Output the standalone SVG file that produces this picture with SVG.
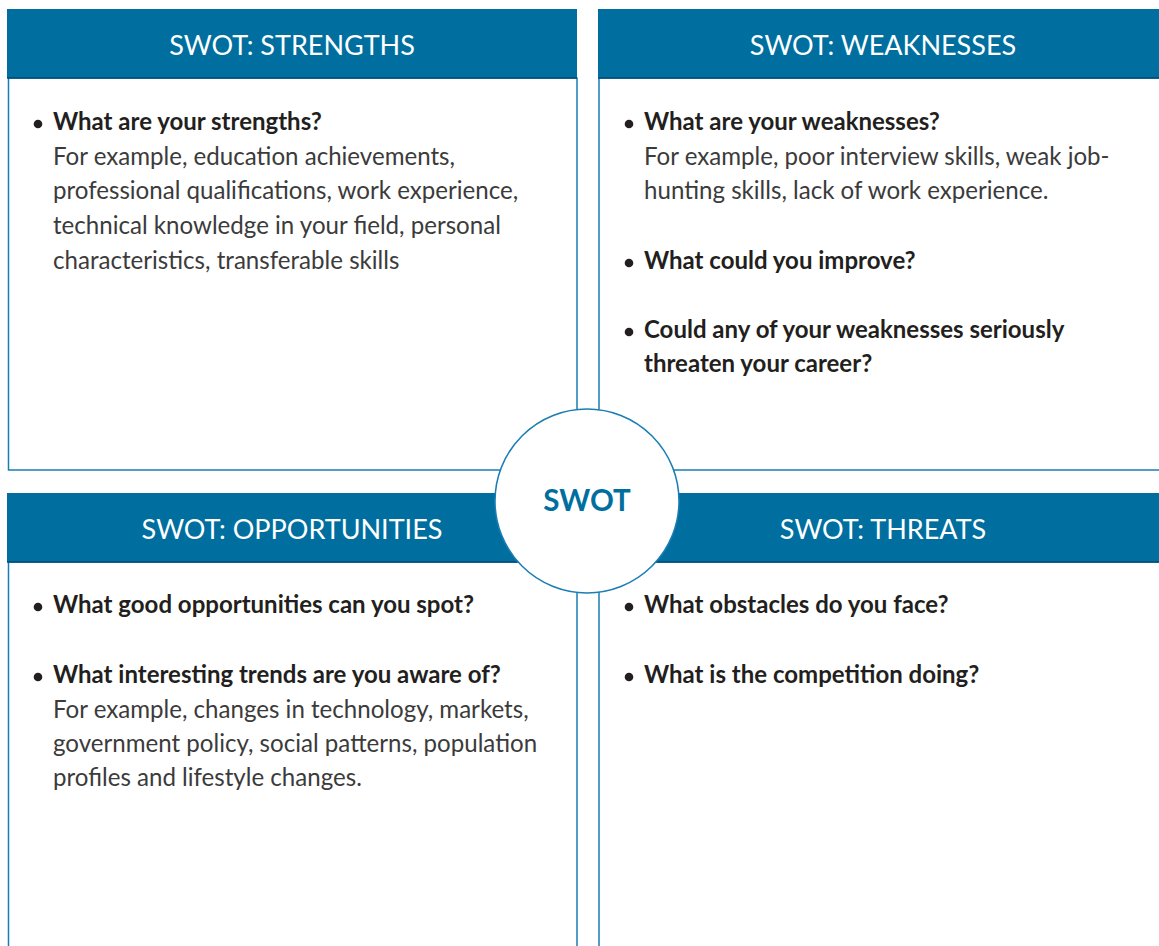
<svg xmlns="http://www.w3.org/2000/svg" width="1159" height="946" viewBox="0 0 1159 946">
  <style>
    .panel { fill: #ffffff; stroke: #1a7db3; stroke-width: 1.5; }
    .head { fill: #006f9f; }
    .headline { stroke: #004a75; stroke-width: 1.5; }
    .htxt { font-family: Lato, "Open Sans", sans-serif; font-size: 27px; fill: #ffffff; text-anchor: middle; }
    .q { font-family: Lato, "Open Sans", sans-serif; font-size: 24px; font-weight: bold; fill: #231f20; }
    .b { font-family: Lato, "Open Sans", sans-serif; font-size: 24.1px; fill: #3b3b3b; }
    .dot { fill: #231f20; }
    .hub { fill: #ffffff; stroke: #1a7db3; stroke-width: 1.5; }
    .hubtxt { font-family: Lato, "Open Sans", sans-serif; font-size: 29.5px; font-weight: bold; fill: #006f9f; text-anchor: middle; }
  </style>
  <rect width="1159" height="946" fill="#ffffff"/>

  <!-- Strengths quadrant -->
  <g id="strengths">
    <rect class="panel" x="8.5" y="78" width="568.5" height="392"/>
    <rect class="head" x="7" y="9" width="570" height="69"/>
    <line class="headline" x1="7" y1="78" x2="577" y2="78"/>
    <text class="htxt" x="292" y="55">SWOT: STRENGTHS</text>
    <circle class="dot" cx="38" cy="124" r="4.3"/>
    <text class="q" x="53" y="130">What are your strengths?</text>
    <text class="b" x="53" y="165">For example, education achievements,</text>
    <text class="b" x="53" y="199">professional qualifications, work experience,</text>
    <text class="b" x="53" y="234">technical knowledge in your field, personal</text>
    <text class="b" x="53" y="269">characteristics, transferable skills</text>
  </g>

  <!-- Weaknesses quadrant -->
  <g id="weaknesses">
    <rect class="panel" x="599" y="78" width="580" height="392"/>
    <rect class="head" x="598" y="9" width="561" height="69"/>
    <line class="headline" x1="598" y1="78" x2="1159" y2="78"/>
    <text class="htxt" x="883" y="55">SWOT: WEAKNESSES</text>
    <circle class="dot" cx="629" cy="124" r="4.3"/>
    <text class="q" x="644" y="130">What are your weaknesses?</text>
    <text class="b" x="644" y="165">For example, poor interview skills, weak job-</text>
    <text class="b" x="644" y="199">hunting skills, lack of work experience.</text>
    <circle class="dot" cx="629" cy="263" r="4.3"/>
    <text class="q" x="644" y="269">What could you improve?</text>
    <circle class="dot" cx="629" cy="332" r="4.3"/>
    <text class="q" x="644" y="338">Could any of your weaknesses seriously</text>
    <text class="q" x="644" y="372">threaten your career?</text>
  </g>

  <!-- Opportunities quadrant -->
  <g id="opportunities">
    <rect class="panel" x="8.5" y="562" width="568.5" height="400"/>
    <rect class="head" x="7" y="493" width="570" height="69"/>
    <line class="headline" x1="7" y1="562" x2="577" y2="562"/>
    <text class="htxt" x="292" y="539">SWOT: OPPORTUNITIES</text>
    <circle class="dot" cx="38" cy="607" r="4.3"/>
    <text class="q" x="53" y="613">What good opportunities can you spot?</text>
    <circle class="dot" cx="38" cy="677" r="4.3"/>
    <text class="q" x="53" y="683">What interesting trends are you aware of?</text>
    <text class="b" x="53" y="718">For example, changes in technology, markets,</text>
    <text class="b" x="53" y="752">government policy, social patterns, population</text>
    <text class="b" x="53" y="786">profiles and lifestyle changes.</text>
  </g>

  <!-- Threats quadrant -->
  <g id="threats">
    <rect class="panel" x="599" y="562" width="580" height="400"/>
    <rect class="head" x="598" y="493" width="561" height="69"/>
    <line class="headline" x1="598" y1="562" x2="1159" y2="562"/>
    <text class="htxt" x="883" y="539">SWOT: THREATS</text>
    <circle class="dot" cx="629" cy="607" r="4.3"/>
    <text class="q" x="644" y="613">What obstacles do you face?</text>
    <circle class="dot" cx="629" cy="677" r="4.3"/>
    <text class="q" x="644" y="683">What is the competition doing?</text>
  </g>

  <!-- Central hub -->
  <g id="hub">
    <circle class="hub" cx="587" cy="501" r="92"/>
    <text class="hubtxt" x="587" y="511">SWOT</text>
  </g>

  <g id="connectors"/>
</svg>
